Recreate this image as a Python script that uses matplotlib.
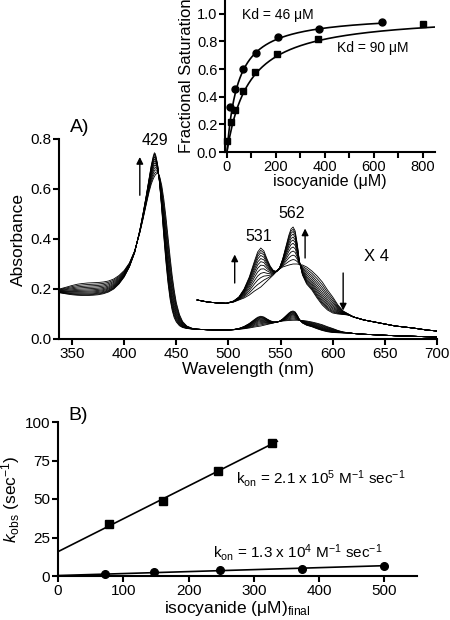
import matplotlib
matplotlib.use('Agg')
import matplotlib.pyplot as plt
import numpy as np

plt.rcParams['font.family'] = ['Liberation Sans', 'DejaVu Sans']
plt.rcParams['mathtext.fontset'] = 'custom'
plt.rcParams['mathtext.rm'] = 'Liberation Sans'
plt.rcParams['mathtext.it'] = 'Liberation Sans:italic'
plt.rcParams['mathtext.bf'] = 'Liberation Sans:bold'

# ---------------- data: panel A spectra ----------------
wavelength = [338, 345, 350, 355, 360, 365, 370, 375, 380, 385, 390, 395, 400, 405, 410,
              415, 418, 421, 424, 426, 428, 429, 430, 432, 434, 436, 438, 440, 442, 444,
              446, 448, 450, 453, 456, 460, 465, 470, 480, 490, 498, 505, 510, 515, 520,
              525, 528, 531, 534, 537, 540, 543, 546, 549, 552, 555, 558, 560, 562, 564,
              566, 568, 571, 575, 580, 585, 590, 595, 600, 605, 610, 615, 620, 630, 645,
              660, 677, 690, 700]
abs_final = [0.185, 0.180, 0.177, 0.175, 0.174, 0.174, 0.175, 0.177, 0.181, 0.188, 0.200, 0.220,
             0.248, 0.288, 0.345, 0.435, 0.500, 0.570, 0.645, 0.695, 0.733, 0.745, 0.740, 0.700,
             0.620, 0.520, 0.410, 0.310, 0.225, 0.160, 0.115, 0.085, 0.068, 0.053, 0.046, 0.042,
             0.040, 0.039, 0.037, 0.036, 0.0357, 0.038, 0.042, 0.050, 0.062, 0.078, 0.087, 0.091,
             0.088, 0.080, 0.073, 0.0685, 0.0675, 0.071, 0.080, 0.092, 0.104, 0.110, 0.112, 0.108,
             0.095, 0.078, 0.064, 0.055, 0.049, 0.041, 0.034, 0.029, 0.026, 0.025, 0.0245, 0.024,
             0.022, 0.019, 0.016, 0.013, 0.011, 0.009, 0.008]
abs_initial = [0.200, 0.208, 0.214, 0.219, 0.222, 0.224, 0.225, 0.226, 0.228, 0.232, 0.240, 0.254,
               0.274, 0.304, 0.352, 0.425, 0.478, 0.535, 0.590, 0.620, 0.642, 0.650, 0.657, 0.665,
               0.650, 0.615, 0.560, 0.490, 0.410, 0.330, 0.255, 0.195, 0.145, 0.098, 0.070, 0.052,
               0.043, 0.039, 0.037, 0.036, 0.0357, 0.037, 0.039, 0.041, 0.044, 0.048, 0.050, 0.052,
               0.055, 0.058, 0.061, 0.064, 0.0675, 0.070, 0.072, 0.073, 0.074, 0.0745, 0.075, 0.075,
               0.075, 0.0745, 0.074, 0.072, 0.068, 0.063, 0.057, 0.049, 0.042, 0.034, 0.028, 0.025,
               0.022, 0.019, 0.016, 0.013, 0.011, 0.009, 0.008]
titration_fraction = [0.0, 0.12, 0.24, 0.35, 0.46, 0.56, 0.65, 0.73, 0.81, 0.88, 0.94, 1.0]
x4_start_nm = 468
x4_factor = 4

# ---------------- data: inset ----------------
sat_x_kd46 = [13.6, 34, 65, 119, 207, 377, 635]
sat_y_kd46 = [0.325, 0.458, 0.60, 0.72, 0.83, 0.89, 0.94]
sat_x_kd90 = [0, 16, 34, 64, 115, 203, 373, 800]
sat_y_kd90 = [0.077, 0.214, 0.306, 0.443, 0.576, 0.71, 0.817, 0.925]
kd_values = [46, 90]
fit_end_x = [635, 850]

# ---------------- data: panel B ----------------
kobs_fast_x = [78.5, 161.5, 245, 328]
kobs_fast_y = [34.0, 48.4, 68.1, 86.4]
kobs_slow_x = [72, 147, 248, 374, 500]
kobs_slow_y = [1.5, 2.6, 3.7, 4.8, 6.6]
fit_fast_x = [0, 336]
fit_fast_y = [15.8, 87.5]
fit_slow_x = [0, 500]
fit_slow_y = [0.3, 6.7]

# ---------------- figure ----------------
fig = plt.figure(figsize=(4.5, 6.2), dpi=100)

def style(ax, lw=1.5, size=11):
    for s in ['top', 'right']:
        ax.spines[s].set_visible(False)
    for s in ['left', 'bottom']:
        ax.spines[s].set_linewidth(lw)
    ax.tick_params(direction='out', width=lw, length=4, labelsize=size, pad=1.5)

# Panel A
axA = fig.add_axes([59/450, 1-339/620, 378/450, 200/620])
wl = np.array(wavelength)
Ai = np.array(abs_initial)
Af = np.array(abs_final)
mask = wl >= x4_start_nm
for f in titration_fraction:
    spec = (1 - f) * Ai + f * Af
    axA.plot(wl, spec, color='black', lw=0.6)
    axA.plot(wl[mask], x4_factor * spec[mask], color='black', lw=0.6)
axA.set_xlim(337.5, 700)
axA.set_ylim(0, 0.8)
axA.set_xticks([350, 400, 450, 500, 550, 600, 650, 700])
axA.set_yticks([0.0, 0.2, 0.4, 0.6, 0.8])
axA.set_yticklabels(['0.0', '0.2', '0.4', '0.6', '0.8'])
style(axA)
axA.set_xlabel('Wavelength (nm)', fontsize=12.5, labelpad=1)
axA.set_ylabel('Absorbance', fontsize=12.5, labelpad=3)
fig.text(70/450, 1-128/620, 'A)', fontsize=14, ha='left', va='center')

ap = dict(arrowstyle='-|>', color='black', lw=1.0, mutation_scale=10, shrinkA=0, shrinkB=0)
axA.annotate('', xy=(415, 0.728), xytext=(415, 0.575), arrowprops=ap)
axA.annotate('', xy=(506, 0.338), xytext=(506, 0.224), arrowprops=ap)
axA.annotate('', xy=(573.5, 0.442), xytext=(573.5, 0.324), arrowprops=ap)
axA.annotate('', xy=(610, 0.114), xytext=(610, 0.264), arrowprops=ap)
axA.text(429.5, 0.795, '429', fontsize=11.5, ha='center', va='center')
axA.text(529, 0.41, '531', fontsize=11.5, ha='center', va='center')
axA.text(560.5, 0.50, '562', fontsize=11.5, ha='center', va='center')
axA.text(642, 0.33, 'X 4', fontsize=12, ha='center', va='center')

# Inset
axI = fig.add_axes([225/450, 1-152/620, 210/450, 152/620])
xs = np.linspace(0, fit_end_x[0], 300)
axI.plot(xs, xs / (kd_values[0] + xs), color='black', lw=1.2)
xs2 = np.linspace(0, fit_end_x[1], 300)
axI.plot(xs2, xs2 / (kd_values[1] + xs2), color='black', lw=1.2)
axI.plot(sat_x_kd46, sat_y_kd46, 'o', color='black', ms=5, clip_on=False)
axI.plot(sat_x_kd90, sat_y_kd90, 's', color='black', ms=4.6, clip_on=False)
axI.set_xlim(-8, 850)
axI.set_ylim(0, 1.1)
axI.set_xticks([0, 200, 400, 600, 800])
axI.set_xticks([100, 300, 500, 700], minor=True)
axI.set_yticks([0.0, 0.2, 0.4, 0.6, 0.8, 1.0])
axI.set_yticklabels(['0.0', '0.2', '0.4', '0.6', '0.8', '1.0'])
style(axI, size=10.5)
axI.tick_params(which='minor', direction='out', width=1.5, length=4)
axI.set_xlabel('isocyanide (μM)', fontsize=11.5, labelpad=0)
axI.set_ylabel('Fractional Saturation', fontsize=12, labelpad=2)
axI.text(62, 0.993, 'Kd = %d μM' % kd_values[0], fontsize=10, ha='left', va='center')
axI.text(449, 0.754, 'Kd = %d μM' % kd_values[1], fontsize=10, ha='left', va='center')

# Panel B
axB = fig.add_axes([58/450, 1-576/620, 359/450, 154/620])
axB.plot(fit_fast_x, fit_fast_y, color='black', lw=1.2)
axB.plot(fit_slow_x, fit_slow_y, color='black', lw=1.2)
axB.plot(kobs_fast_x, kobs_fast_y, 's', color='black', ms=5.5, clip_on=False)
axB.plot(kobs_slow_x, kobs_slow_y, 'o', color='black', ms=5.5, clip_on=False)
axB.set_xlim(0, 550)
axB.set_ylim(0, 100)
axB.set_xticks([0, 100, 200, 300, 400, 500])
axB.set_yticks([0, 25, 50, 75, 100])
style(axB)
axB.set_xlabel(r'isocyanide (μM)$_{\mathrm{final}}$', fontsize=12.5, labelpad=1)
axB.set_ylabel(r'$k_{\mathrm{obs}}$ (sec$^{-1}$)', fontsize=12.5, labelpad=2)
fig.text(68/450, 1-415/620, 'B)', fontsize=14, ha='left', va='center')
axB.text(272, 63.6, r'k$_{\mathrm{on}}$ = 2.1 x 10$^{5}$ M$^{-1}$ sec$^{-1}$', fontsize=11,
         ha='left', va='center')
axB.text(238, 15.5, r'k$_{\mathrm{on}}$ = 1.3 x 10$^{4}$ M$^{-1}$ sec$^{-1}$', fontsize=11,
         ha='left', va='center')

fig.savefig('out.png', dpi=100)
